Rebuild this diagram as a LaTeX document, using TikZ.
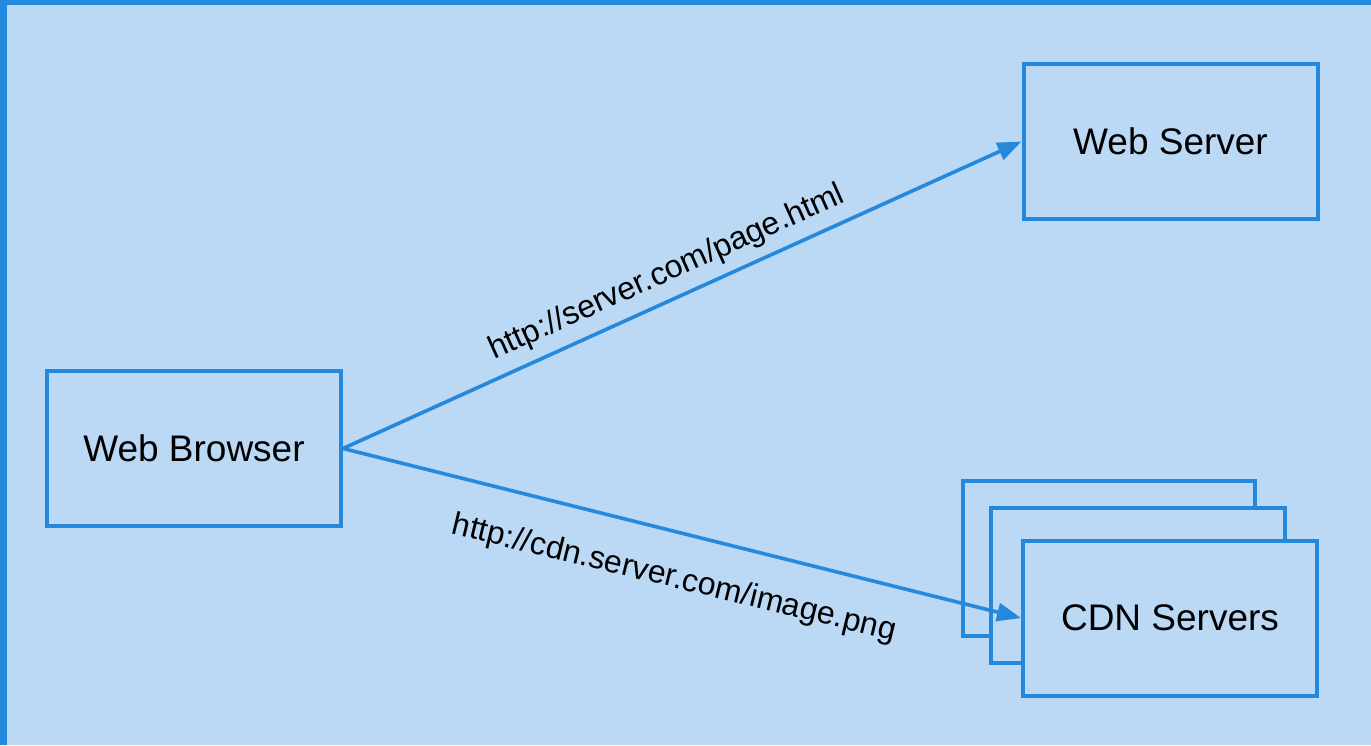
\documentclass[tikz,border=0pt]{standalone}
\usepackage{fontspec}
\setmainfont{Liberation Sans}
\usetikzlibrary{arrows.meta}
\definecolor{bgblue}{RGB}{187,216,245}
\definecolor{lineblue}{RGB}{36,136,221}
\tikzset{
  box/.style={draw=lineblue, line width=4pt, fill=bgblue, minimum width=294pt, minimum height=155pt,
    inner sep=0pt, font=\fontsize{37}{44}\selectfont, text=black},
  link/.style={draw=lineblue, line width=3.6pt, -{Triangle[length=24pt,width=18pt]}},
  lab/.style={font=\fontsize{32}{38}\selectfont, text=black, inner sep=0pt}
}
\begin{document}
\begin{tikzpicture}[x=1pt,y=-1pt]
\useasboundingbox (0,0) rectangle (1371,745);
\fill[bgblue] (0,0) rectangle (1371,745);
\fill[lineblue] (0,0) rectangle (1371,5);
\fill[lineblue] (0,0) rectangle (7,745);

\node[box] (wb) at (194,448.5) {Web Browser};
\node[box] (ws) at (1170.5,141.5) {Web Server};
\node[box, minimum width=292pt] (cdn1) at (1109,558.7) {};
\node[box] (cdn2) at (1138,585.5) {};
\node[box] (cdn3) at (1170,618) {CDN Servers};

\draw[link] (wb.east) -- (ws.west);
\draw[link] (wb.east) -- (cdn3.west);

\node[lab, rotate=24.2] (l1) at (667,273) {http://server.com/page.html};
\node[lab, rotate=-13.6] (l2) at (674,579) {http://cdn.server.com/image.png};
\end{tikzpicture}
\end{document}
